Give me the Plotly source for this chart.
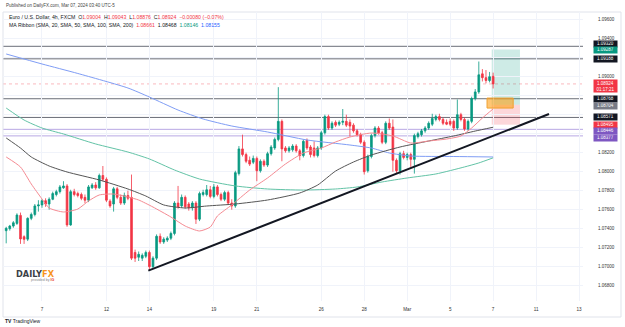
import plotly.graph_objects as go

# ---------------- data ----------------
candle_start = -10   # candle index of first visible 4h candle (index 0 = Feb 7 session start)

opens = [1.07379, 1.07400, 1.07428, 1.07456, 1.0754, 1.07316, 1.0729, 1.07509, 1.0755, 1.0764,
         1.0765, 1.07695, 1.0766, 1.0771, 1.0776, 1.0779, 1.0783, 1.0785, 1.0744, 1.0779,
         1.0777, 1.0776, 1.0773, 1.0770, 1.0783, 1.0786, 1.0783, 1.0796, 1.0792, 1.0769,
         1.0766, 1.0782, 1.0773, 1.0767, 1.0775, 1.0773, 1.0715, 1.0710, 1.0709, 1.0711,
         1.0715, 1.0700, 1.0709, 1.0732, 1.0726, 1.0728, 1.0730, 1.0735, 1.0767, 1.0764,
         1.0773, 1.0766, 1.0762, 1.0767, 1.0750, 1.0776, 1.0776, 1.0781, 1.0774, 1.0784,
         1.0776, 1.0771, 1.0778, 1.0767, 1.0764, 1.0798, 1.0824, 1.0818, 1.0812, 1.0810,
         1.0814, 1.0801, 1.0811, 1.0807, 1.0819, 1.0825, 1.0834, 1.0853, 1.0825, 1.0822,
         1.0823, 1.0827, 1.0822, 1.0817, 1.0833, 1.0826, 1.0825, 1.0817, 1.0825, 1.0841,
         1.0858, 1.0846, 1.0852, 1.0850, 1.0852, 1.0853, 1.0852, 1.0849, 1.0843, 1.0839,
         1.0831, 1.0801, 1.0816, 1.0838, 1.0846, 1.0841, 1.0831, 1.0851, 1.0847, 1.0812,
         1.0801, 1.0819, 1.0815, 1.0818, 1.0813, 1.0837, 1.0839, 1.0843, 1.0846, 1.0850,
         1.0855, 1.0858, 1.0855, 1.0852, 1.0853, 1.0853, 1.0846, 1.0860, 1.0855, 1.0845,
         1.0853, 1.0877, 1.0884, 1.0903, 1.0899, 1.0896, 1.09004]
highs = [1.0742, 1.0744, 1.0748, 1.07562, 1.0757, 1.0733, 1.0752, 1.0757, 1.0766, 1.0770,
         1.0771, 1.0772, 1.0773, 1.0779, 1.0781, 1.0786, 1.0790, 1.0787, 1.0781, 1.0782,
         1.0779, 1.0778, 1.0776, 1.0786, 1.0788, 1.0789, 1.0798, 1.0806, 1.0794, 1.0771,
         1.0784, 1.0784, 1.0776, 1.0778, 1.0780, 1.0797, 1.0718, 1.0716, 1.0714, 1.0717,
         1.0717, 1.0711, 1.0734, 1.0735, 1.0731, 1.0732, 1.0737, 1.0769, 1.0785, 1.0776,
         1.0775, 1.0768, 1.0769, 1.0769, 1.0779, 1.0781, 1.0786, 1.0785, 1.0787, 1.0786,
         1.0778, 1.0780, 1.0780, 1.0771, 1.0801, 1.0827, 1.0839, 1.0820, 1.0816, 1.0817,
         1.0816, 1.0813, 1.0813, 1.0821, 1.0828, 1.0836, 1.0889, 1.0855, 1.0827, 1.0827,
         1.0829, 1.0829, 1.0824, 1.0834, 1.0835, 1.0828, 1.0832, 1.0827, 1.0843, 1.0860,
         1.0860, 1.0853, 1.0854, 1.0854, 1.0866, 1.0860, 1.0855, 1.0851, 1.0845, 1.0841,
         1.0833, 1.0818, 1.0840, 1.0848, 1.0848, 1.0843, 1.0853, 1.0856, 1.0855, 1.0814,
         1.0821, 1.0822, 1.0820, 1.0820, 1.0840, 1.0842, 1.0845, 1.0848, 1.0853, 1.0861,
         1.0860, 1.0861, 1.0857, 1.0855, 1.0856, 1.0855, 1.0876, 1.0862, 1.0857, 1.0855,
         1.0879, 1.0887, 1.0916, 1.0908, 1.0907, 1.0905, 1.09043]
lows = [1.07246, 1.0738, 1.0741, 1.0744, 1.0724, 1.0724, 1.0727, 1.0749, 1.0753, 1.0758,
        1.0762, 1.0763, 1.0760, 1.0770, 1.0774, 1.0777, 1.0782, 1.0742, 1.0743, 1.0774,
        1.0773, 1.0770, 1.0767, 1.0768, 1.0782, 1.0781, 1.0782, 1.0790, 1.0768, 1.0762,
        1.0758, 1.0771, 1.0765, 1.0765, 1.0770, 1.0707, 1.0705, 1.0706, 1.0706, 1.0709,
        1.0696, 1.0698, 1.0707, 1.0724, 1.0724, 1.0726, 1.0728, 1.0733, 1.0761, 1.0762,
        1.0761, 1.0759, 1.0759, 1.0745, 1.0748, 1.0774, 1.0774, 1.0772, 1.0772, 1.0774,
        1.0769, 1.0769, 1.0765, 1.0760, 1.0762, 1.0796, 1.0816, 1.0809, 1.0806, 1.0808,
        1.0790, 1.0799, 1.0805, 1.0805, 1.0817, 1.0823, 1.0832, 1.0811, 1.0820, 1.0820,
        1.0821, 1.0820, 1.0812, 1.0815, 1.0823, 1.0815, 1.0815, 1.0815, 1.0823, 1.0839,
        1.0844, 1.0844, 1.0847, 1.0848, 1.0849, 1.0847, 1.0837, 1.0841, 1.0837, 1.0829,
        1.0797, 1.0799, 1.0814, 1.0836, 1.0839, 1.0829, 1.0829, 1.0844, 1.0800, 1.0798,
        1.0797, 1.0813, 1.0812, 1.0805, 1.0798, 1.0835, 1.0837, 1.0841, 1.0844, 1.0848,
        1.0853, 1.0853, 1.0849, 1.0849, 1.0848, 1.0843, 1.0844, 1.0853, 1.0843, 1.0843,
        1.0851, 1.0875, 1.0882, 1.0895, 1.0893, 1.0894, 1.08876]
closes = [1.07404, 1.07428, 1.07463, 1.07544, 1.07292, 1.07288, 1.07509, 1.0755, 1.0764, 1.0765,
          1.07695, 1.0766, 1.0771, 1.0777, 1.0779, 1.0784, 1.0785, 1.0744, 1.0779, 1.0776,
          1.0775, 1.0772, 1.0770, 1.0784, 1.0786, 1.0783, 1.0796, 1.0792, 1.0770, 1.0764,
          1.0782, 1.0773, 1.0767, 1.0775, 1.0772, 1.0709, 1.0709, 1.0713, 1.0712, 1.0715,
          1.0700, 1.0709, 1.0732, 1.0726, 1.0729, 1.0730, 1.0735, 1.0767, 1.0763, 1.0773,
          1.0763, 1.0762, 1.0767, 1.0750, 1.0777, 1.0778, 1.0781, 1.0774, 1.0784, 1.0776,
          1.0771, 1.0778, 1.0767, 1.0764, 1.0799, 1.0824, 1.0818, 1.0811, 1.0808, 1.0814,
          1.0801, 1.0811, 1.0807, 1.0819, 1.0826, 1.0834, 1.0853, 1.0824, 1.0822, 1.0825,
          1.0827, 1.0822, 1.0817, 1.0832, 1.0825, 1.0818, 1.0817, 1.0825, 1.0841, 1.0858,
          1.0846, 1.0851, 1.0849, 1.0852, 1.0853, 1.0849, 1.0848, 1.0843, 1.0839, 1.0831,
          1.0800, 1.0816, 1.0838, 1.0846, 1.0841, 1.0831, 1.0851, 1.0846, 1.0812, 1.0801,
          1.0819, 1.0815, 1.0818, 1.0813, 1.0838, 1.0840, 1.0843, 1.0846, 1.0851, 1.0856,
          1.0858, 1.0855, 1.0851, 1.0850, 1.0850, 1.0846, 1.0860, 1.0855, 1.0845, 1.0853,
          1.0877, 1.0884, 1.0902, 1.0899, 1.0896, 1.0900, 1.08924]

# moving averages read at sample candle indices
sma20_idx = [-10, -6, -3, 0, 2, 6, 10, 13, 16, 20, 24, 27, 31, 36, 40, 44, 47, 49, 53, 58, 63, 68,
             73, 78, 82, 86, 92, 98, 103, 108, 113, 117, 120, 123, 126]
sma20_val = [1.08155, 1.08049, 1.07871, 1.07713, 1.07618, 1.07576, 1.07607, 1.07692, 1.07755,
             1.07765, 1.07734, 1.07702, 1.07628, 1.07523, 1.07428, 1.07376, 1.07418, 1.07534,
             1.07650, 1.07807, 1.07934, 1.08081, 1.08197, 1.08249, 1.08313, 1.08365, 1.08407,
             1.08376, 1.08302, 1.08323, 1.08344, 1.08376, 1.08460, 1.08565, 1.08661]
sma50_idx = [-10, -6, -3, 2, 7, 16, 24, 29, 34, 40, 46, 54, 63, 72, 77, 82, 87, 92, 100, 108,
             115, 121, 126]
sma50_val = [1.08355, 1.08249, 1.08155, 1.08060, 1.07997, 1.07913, 1.07818, 1.07744, 1.07650,
             1.07618, 1.07639, 1.07660, 1.07702, 1.07776, 1.07860, 1.08007, 1.08102, 1.08176,
             1.08260, 1.08323, 1.08376, 1.08428, 1.08468]
sma100_idx = [-10, -5, 0, 6, 15, 24, 30, 37, 44, 54, 63, 73, 82, 88, 95, 102, 110, 118, 122, 126]
sma100_val = [1.08670, 1.08544, 1.08460, 1.08397, 1.08292, 1.08207, 1.08134, 1.08018, 1.07923,
              1.07850, 1.07818, 1.07807, 1.07818, 1.07839, 1.07892, 1.07934, 1.07976, 1.08050,
              1.08092, 1.08146]
sma200_idx = [-10, 0, 10, 24, 30, 38, 45, 53, 63, 74, 86, 92, 97, 103, 115, 126]
sma200_val = [1.09239, 1.09134, 1.09034, 1.08881, 1.08786, 1.08649, 1.08555, 1.08481, 1.08418,
              1.08334, 1.08281, 1.08249, 1.08197, 1.08165, 1.08160, 1.08155]

day_tick_idx = [0, 18, 30, 48, 60, 78, 90, 102, 114, 126, 138, 150]
day_tick_labels = ["7", "12", "14", "19", "21", "26", "28", "Mar", "5", "7", "11", "13"]

price_ticks = [1.068, 1.070, 1.072, 1.074, 1.076, 1.078, 1.080, 1.082, 1.084, 1.086, 1.088,
               1.090, 1.092, 1.094, 1.096]
price_tick_text = ["1.06800", "1.07000", "1.07200", "1.07400", "1.07600", "1.07800", "1.08000",
                   "1.08200", "", "", "", "1.09000", "", "1.09400", "1.09600"]

gray_levels = [1.09320, 1.09188, 1.08768, 1.08571]
purple_levels = [1.08446, 1.08377]
last_price = 1.08924
trend_idx = [29.7, 141.6]
trend_val = [1.06958, 1.08607]
pos_idx = [125.6, 133.5]
pos_target, pos_entry, pos_stop = 1.09287, 1.08704, 1.08495
zone_idx = [124.3, 131.6]
zone_val = [1.08670, 1.08775]

GREEN = "#089981"
RED = "#F23645"

x_idx = list(range(candle_start, candle_start + len(opens)))

fig = go.Figure()

fig.add_trace(go.Candlestick(
    x=x_idx, open=opens, high=highs, low=lows, close=closes,
    increasing=dict(line=dict(color=GREEN, width=0.8), fillcolor=GREEN),
    decreasing=dict(line=dict(color=RED, width=0.8), fillcolor=RED),
    whiskerwidth=0, showlegend=False, hoverinfo="skip"))

for idx, val, col in [(sma200_idx, sma200_val, "#7f9df5"),
                      (sma100_idx, sma100_val, "#62c3a6"),
                      (sma50_idx, sma50_val, "#555555"),
                      (sma20_idx, sma20_val, "#f58a92")]:
    fig.add_trace(go.Scatter(x=idx, y=val, mode="lines",
                             line=dict(color=col, width=1, shape="spline", smoothing=0.6),
                             showlegend=False, hoverinfo="skip"))

fig.add_trace(go.Scatter(x=trend_idx, y=trend_val, mode="lines",
                         line=dict(color="#131722", width=2), showlegend=False,
                         hoverinfo="skip"))

shapes = []
for lv in gray_levels:
    shapes.append(dict(type="line", xref="paper", x0=0, x1=1, yref="y", y0=lv, y1=lv,
                       line=dict(color="#6b6e78", width=1), layer="below"))
for lv in purple_levels:
    shapes.append(dict(type="line", xref="paper", x0=0, x1=1, yref="y", y0=lv, y1=lv,
                       line=dict(color="#b8a8e4", width=1), layer="below"))
shapes.append(dict(type="line", xref="paper", x0=0, x1=1, yref="y", y0=last_price,
                   y1=last_price, line=dict(color="rgba(242,54,69,0.35)", width=1, dash="dot"),
                   layer="below"))
# long position tool
shapes.append(dict(type="rect", xref="x", x0=pos_idx[0], x1=pos_idx[1], yref="y",
                   y0=pos_entry, y1=pos_target, fillcolor="rgba(8,153,129,0.2)",
                   line=dict(width=0), layer="below"))
shapes.append(dict(type="rect", xref="x", x0=pos_idx[0], x1=pos_idx[1], yref="y",
                   y0=pos_stop, y1=pos_entry, fillcolor="rgba(242,54,69,0.2)",
                   line=dict(width=0), layer="below"))
# orange zone
shapes.append(dict(type="rect", xref="x", x0=zone_idx[0], x1=zone_idx[1], yref="y",
                   y0=zone_val[0], y1=zone_val[1], fillcolor="rgba(255,152,0,0.55)",
                   line=dict(color="#f0a030", width=1)))
# frame
shapes.append(dict(type="rect", xref="paper", yref="paper", x0=0, x1=1.0655, y0=-0.0554, y1=1,
                   line=dict(color="#e0e3eb", width=1), layer="below"))

def px_x(px):
    return (px - 3) / 580.0

def px_y(py):
    return (301 - py) / 289.0

ann = []
ann.append(dict(text="Published on DailyFX.com, Mar 07, 2024 03:40 UTC-5", xref="paper",
                yref="paper", x=px_x(4), y=px_y(5), xanchor="left", yanchor="middle",
                showarrow=False, font=dict(size=4.5, color="#444", family="Liberation Sans")))
row1 = ("Euro / U.S. Dollar, 4h, FXCM  O<span style='color:#F23645'>1.09004</span>"
        "  H<span style='color:#F23645'>1.09043</span>  L<span style='color:#F23645'>1.08876</span>"
        "  C<span style='color:#F23645'>1.08924  −0.00080 (−0.07%)</span>")
row2 = ("MA Ribbon (SMA, 20, SMA, 50, SMA, 100, SMA, 200)  <span style='color:#F23645'>1.08661</span>"
        "  1.08468  <span style='color:#089981'>1.08146</span>  <span style='color:#2962ff'>1.08155</span>")
ann.append(dict(text=row1, xref="paper", yref="paper", x=px_x(7), y=px_y(17), xanchor="left",
                yanchor="middle", showarrow=False,
                font=dict(size=5.2, color="#131722", family="Liberation Sans")))
ann.append(dict(text=row2, xref="paper", yref="paper", x=px_x(7), y=px_y(25), xanchor="left",
                yanchor="middle", showarrow=False,
                font=dict(size=5.2, color="#131722", family="Liberation Sans")))

labels = [("1.09320", 1.09320, "#131722", 2.5), ("1.09287", 1.09287, GREEN, -0.5),
          ("1.09188", 1.09188, "#131722", 0), ("1.08768", 1.08768, "#131722", 0),
          ("1.08704", 1.08704, "#787B86", -1), ("1.08571", 1.08571, "#131722", 0),
          ("1.08495", 1.08495, RED, 0), ("1.08446", 1.08446, "#7E57C2", -1.5),
          ("1.08377", 1.08377, "#7E57C2", -2)]
for txt, val, col, sh in labels:
    ann.append(dict(text=txt, xref="paper", yref="y", x=px_x(605.5), y=val, xanchor="center",
                    yanchor="middle", yshift=sh, showarrow=False, bgcolor=col, width=22,
                    height=4.8, borderpad=0.4,
                    font=dict(size=4.5, color="white", family="Liberation Sans")))
ann.append(dict(text="1.08924<br>01:17:21", xref="paper", yref="y", x=px_x(605.5), y=last_price,
                xanchor="center", yanchor="middle", yshift=-2.5, showarrow=False, bgcolor=RED,
                width=22, height=11.5, borderpad=0.4,
                font=dict(size=4.5, color="white", family="Liberation Sans")))

# DailyFX logo
ann.append(dict(text="<b>DAILY</b><b><span style='color:#f7941d'>FX</span></b>", xref="paper",
                yref="paper", x=px_x(14), y=px_y(273.5), xanchor="left", yanchor="middle",
                showarrow=False, font=dict(size=8.2, color="#3b3f47", family="DejaVu Sans")))
ann.append(dict(text="provided by <b><span style='color:#e8322c'>IG</span></b>", xref="paper",
                yref="paper", x=px_x(29), y=px_y(280), xanchor="left", yanchor="middle",
                showarrow=False, font=dict(size=3.6, color="#888", family="Liberation Sans")))
# TradingView logo
ann.append(dict(text="<b>TV</b> TradingView", xref="paper", yref="paper", x=px_x(3),
                y=px_y(320.5), xanchor="left", yanchor="middle", showarrow=False,
                font=dict(size=5, color="#131722", family="Liberation Sans")))

fig.update_layout(
    width=625, height=327,
    margin=dict(l=3, r=42, t=12, b=26),
    paper_bgcolor="white", plot_bgcolor="white",
    showlegend=False,
    shapes=shapes, annotations=ann,
    xaxis=dict(range=[-10.89, 151.1], tickmode="array", tickvals=day_tick_idx,
               ticktext=day_tick_labels, showgrid=True, gridcolor="#f0f3fa", gridwidth=1,
               zeroline=False, showline=False, ticks="", ticklabelstandoff=4,
               tickfont=dict(size=4.6, color="#333", family="Liberation Sans"),
               rangeslider=dict(visible=False)),
    yaxis=dict(range=[1.06639, 1.09681], side="right", tickmode="array", tickvals=price_ticks,
               ticktext=price_tick_text, showgrid=True, gridcolor="#f0f3fa", gridwidth=1,
               zeroline=False, showline=False, ticks="", ticklabelstandoff=14,
               tickfont=dict(size=4.5, color="#333", family="Liberation Sans")),
)

fig.write_html("out.html")
